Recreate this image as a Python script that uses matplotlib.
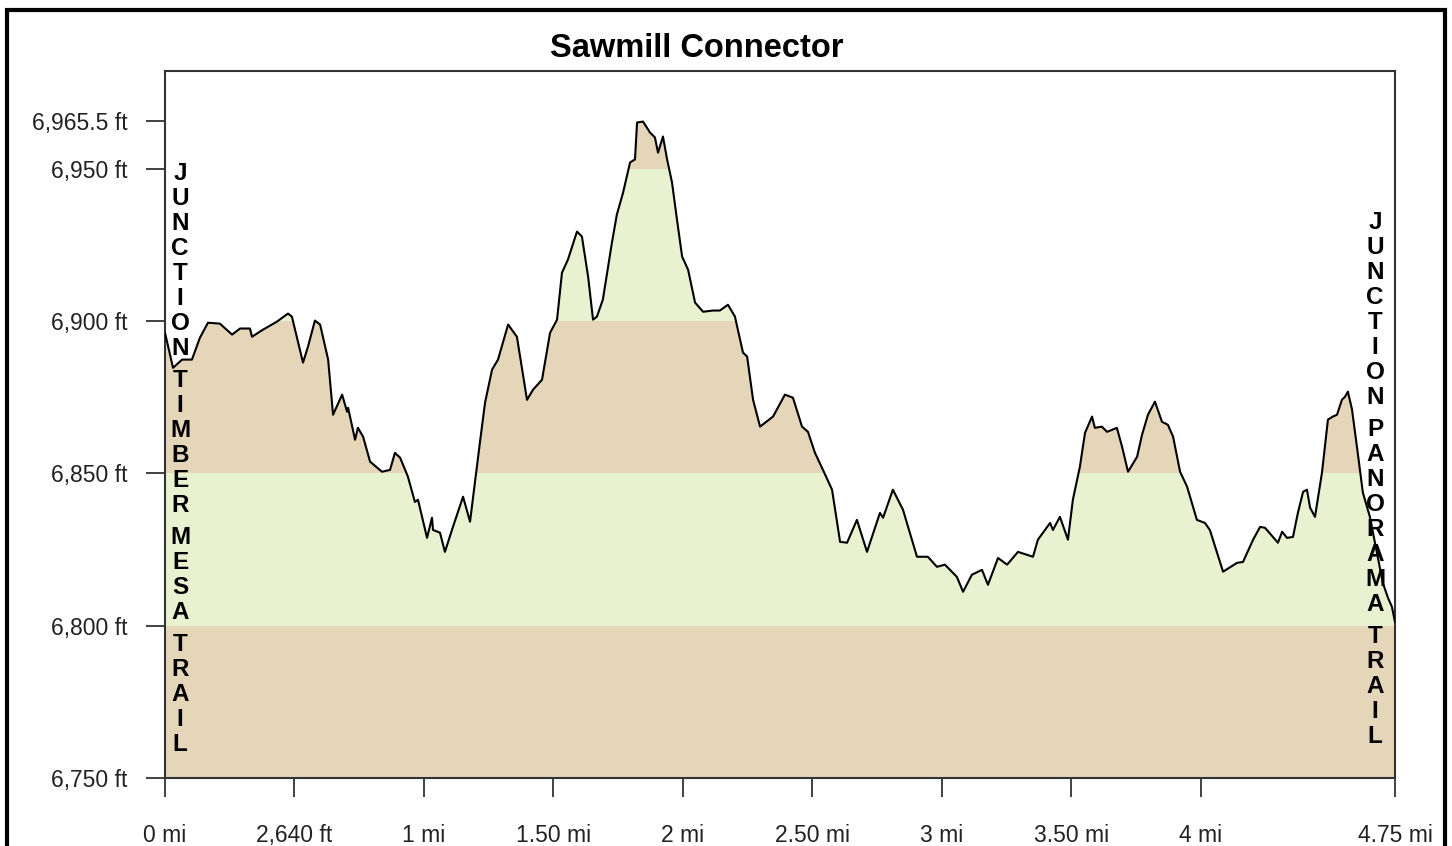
import numpy as np
import matplotlib.pyplot as plt
from matplotlib.patches import Rectangle

# elevation profile
dist_mi = [0.0, 0.031, 0.066, 0.104, 0.135, 0.166, 0.212, 0.259, 0.290, 0.328,
           0.336, 0.378, 0.433, 0.475, 0.490, 0.533, 0.552, 0.579, 0.599, 0.630,
           0.649, 0.684, 0.703, 0.707, 0.734, 0.745, 0.765, 0.792, 0.838, 0.869,
           0.888, 0.908, 0.938, 0.965, 0.977, 1.012, 1.031, 1.035, 1.062, 1.081,
           1.112, 1.151, 1.178, 1.216, 1.236, 1.263, 1.286, 1.325, 1.359, 1.398,
           1.421, 1.456, 1.487, 1.514, 1.533, 1.556, 1.591, 1.610, 1.634, 1.653,
           1.668, 1.691, 1.726, 1.745, 1.769, 1.796, 1.815, 1.823, 1.846, 1.873,
           1.892, 1.904, 1.923, 1.939, 1.958, 1.977, 1.997, 2.020, 2.047, 2.078,
           2.116, 2.143, 2.174, 2.201, 2.232, 2.248, 2.271, 2.298, 2.348, 2.394,
           2.425, 2.460, 2.483, 2.510, 2.541, 2.576, 2.607, 2.634, 2.672, 2.711,
           2.761, 2.773, 2.811, 2.850, 2.904, 2.946, 2.981, 3.012, 3.058, 3.082,
           3.116, 3.155, 3.178, 3.217, 3.252, 3.294, 3.352, 3.371, 3.418, 3.429,
           3.456, 3.487, 3.506, 3.533, 3.553, 3.580, 3.591, 3.618, 3.638, 3.676,
           3.696, 3.719, 3.754, 3.773, 3.796, 3.823, 3.850, 3.873, 3.893, 3.920,
           3.947, 3.985, 4.016, 4.035, 4.086, 4.140, 4.163, 4.202, 4.229, 4.248,
           4.298, 4.314, 4.333, 4.356, 4.375, 4.395, 4.410, 4.422, 4.441, 4.468,
           4.491, 4.510, 4.526, 4.545, 4.557, 4.568, 4.584, 4.603, 4.626, 4.653,
           4.680, 4.703, 4.723, 4.738, 4.750]
elev_ft = [6896.1, 6884.6, 6887.3, 6887.3, 6894.5, 6899.4, 6899.1, 6895.5, 6897.5, 6897.5,
           6894.8, 6897.1, 6899.8, 6902.4, 6901.4, 6886.3, 6891.5, 6900.1, 6898.8, 6887.3,
           6869.2, 6875.8, 6870.2, 6871.5, 6861.0, 6864.9, 6862.0, 6853.8, 6850.5, 6851.1,
           6856.7, 6855.1, 6848.9, 6840.6, 6841.3, 6828.8, 6835.4, 6831.4, 6830.5, 6824.2,
           6832.4, 6842.3, 6834.1, 6860.0, 6873.2, 6884.0, 6887.3, 6898.8, 6894.8, 6874.1,
           6877.4, 6880.7, 6896.1, 6900.4, 6915.8, 6920.1, 6929.3, 6927.7, 6914.5, 6900.4,
           6901.4, 6907.0, 6925.7, 6934.9, 6942.1, 6952.0, 6953.0, 6965.1, 6965.4, 6961.8,
           6960.2, 6955.2, 6960.5, 6953.0, 6945.4, 6933.3, 6921.1, 6916.8, 6906.0, 6903.0,
           6903.4, 6903.4, 6905.3, 6901.4, 6889.6, 6888.3, 6874.1, 6865.3, 6868.6, 6875.8,
           6874.8, 6865.3, 6863.6, 6856.7, 6851.1, 6844.6, 6827.5, 6827.2, 6834.7, 6824.2,
           6837.0, 6835.4, 6844.6, 6838.0, 6822.6, 6822.6, 6819.3, 6820.0, 6816.0, 6811.1,
           6816.7, 6818.3, 6813.4, 6822.2, 6820.0, 6824.2, 6822.6, 6828.2, 6833.7, 6831.4,
           6835.7, 6828.2, 6841.3, 6852.1, 6863.3, 6868.6, 6864.9, 6865.3, 6863.6, 6864.9,
           6858.7, 6850.5, 6855.4, 6862.6, 6869.2, 6873.5, 6866.9, 6865.9, 6862.0, 6850.5,
           6845.6, 6834.7, 6833.7, 6831.4, 6817.7, 6820.6, 6820.9, 6828.2, 6832.4, 6832.1,
           6827.2, 6830.8, 6828.8, 6829.1, 6837.0, 6843.9, 6844.6, 6838.7, 6835.7, 6850.2,
           6867.6, 6868.6, 6869.2, 6874.1, 6875.1, 6876.8, 6870.9, 6858.7, 6843.6, 6835.7,
           6823.9, 6814.0, 6809.1, 6806.2, 6801.2]

band_edges = [6750, 6800, 6850, 6900, 6950, 7000]
band_colors = ['#e6d6b9', '#e9f2d0', '#e6d6b9', '#e9f2d0', '#e6d6b9']

xticks = [0, 0.5, 1, 1.5, 2, 2.5, 3, 3.5, 4, 4.75]
xlabels = ['0 mi', '2,640 ft', '1 mi', '1.50 mi', '2 mi', '2.50 mi', '3 mi',
           '3.50 mi', '4 mi', '4.75 mi']
yticks = [6750, 6800, 6850, 6900, 6950, 6965.5]
ylabels = ['6,750 ft', '6,800 ft', '6,850 ft', '6,900 ft', '6,950 ft', '6,965.5 ft']

left_label = 'JUNCTION TIMBER MESA TRAIL'
right_label = 'JUNCTION PANORAMA TRAIL'

plt.rcParams['font.family'] = ['Liberation Sans', 'DejaVu Sans']

W, H = 1452, 846
fig = plt.figure(figsize=(W / 100, H / 100), dpi=100)
ax = fig.add_axes([165 / W, 1 - 778 / H, (1395 - 165) / W, (778 - 71) / H])

x = np.array(dist_mi)
y = np.array(elev_ft)

# area under the profile, used to clip the coloured bands
under = ax.fill_between(x, 6750, y, facecolor='none', edgecolor='none')
clip = under.get_paths()[0]
for lo, hi, c in zip(band_edges[:-1], band_edges[1:], band_colors):
    band = ax.axhspan(lo, hi, facecolor=c, edgecolor='none', zorder=1)
    band.set_clip_path(clip, ax.transData)

ax.plot(x, y, color='black', lw=1.5, zorder=3)

ax.set_xlim(0, 4.75)
ax.set_ylim(6750, 6982)
ax.set_xticks(xticks)
ax.set_xticklabels(xlabels)
ax.set_yticks(yticks)
ax.set_yticklabels(ylabels)
ax.tick_params(axis='both', length=14, width=1.3, color='#333333',
               labelsize=16.5, labelcolor='#222222')
ax.tick_params(axis='x', pad=19)
ax.tick_params(axis='y', pad=13)
for s in ax.spines.values():
    s.set_color('#333333')
    s.set_linewidth(1.5)

fig.text(697 / W, 1 - 57 / H, 'Sawmill Connector', ha='center', va='baseline',
         fontsize=23.5, fontweight='bold')


def stack_letters(text, xpix, base_pix, step=25, gap=7):
    yy = base_pix
    for ch in text:
        if ch == ' ':
            yy += gap
            continue
        fig.text(xpix / W, 1 - yy / H, ch, ha='center', va='baseline',
                 fontsize=17.5, fontweight='bold', zorder=5)
        yy += step


stack_letters(left_label, 180, 180)
stack_letters(right_label, 1375, 229)

# outer frame of the picture
fig.patches.append(Rectangle((7 / W, -0.05), (1445 - 7) / W, 1.05 - 10 / H,
                             transform=fig.transFigure, fill=False,
                             edgecolor='black', lw=3, zorder=10))

fig.savefig('out.png', dpi=100)
